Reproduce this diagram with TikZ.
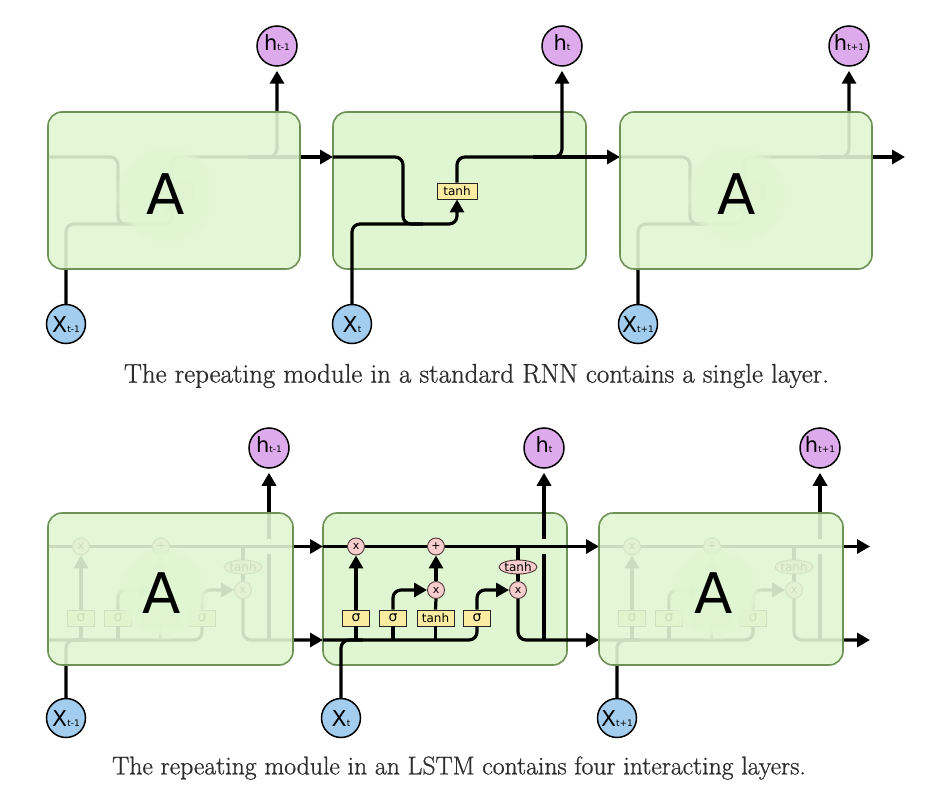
\documentclass[tikz,border=0pt]{standalone}
\usepackage{fontspec}
\newfontfamily\dvs{DejaVu Sans}
\newfontfamily\capfont{Latin Modern Roman}[FakeBold=0.9]
\usetikzlibrary{arrows.meta,shapes.geometric,fadings}
\definecolor{modfill}{RGB}{224,245,210}
\definecolor{modline}{RGB}{110,145,85}
\definecolor{hcol}{RGB}{221,170,236}
\definecolor{xcol}{RGB}{162,205,238}
\definecolor{gatecol}{RGB}{250,236,160}
\definecolor{pinkcol}{RGB}{248,205,205}
\definecolor{opline}{RGB}{80,55,55}
\definecolor{captcol}{RGB}{45,45,45}
\tikzset{
  module/.style={draw=modline, line width=1.6pt, fill=modfill, rounded corners=14pt},
  sidemodule/.style={module, fill opacity=0.9},
  wire/.style={line width=3.2pt, rounded corners=8pt},
  arr/.style={wire, -{Triangle[length=13pt,width=14pt]}},
  hnode/.style={circle, draw=black, line width=1.5pt, fill=hcol, minimum size=40pt, inner sep=0pt, text depth=6.5pt},
  xnode/.style={circle, draw=black, line width=1.5pt, fill=xcol, minimum size=39pt, inner sep=0pt},
  rgate/.style={rectangle, draw=black!85, line width=0.9pt, fill=gatecol, minimum width=40pt, minimum height=16pt, inner sep=0pt, font=\dvs\fontsize{12}{12}\selectfont},
  sgate/.style={rectangle, draw=black!85, line width=0.9pt, fill=gatecol, minimum width=27pt, minimum height=16pt, inner sep=0pt, font=\dvs\fontsize{14}{14}\selectfont},
  tgate/.style={sgate, minimum width=37pt, font=\dvs\fontsize{12}{12}\selectfont},
  op/.style={circle, draw=opline, line width=0.9pt, fill=pinkcol, minimum size=17pt, inner sep=0pt, font=\dvs\fontsize{11}{11}\selectfont},
  tanhc/.style={ellipse, draw=opline, line width=0.9pt, fill=pinkcol, minimum width=38pt, minimum height=14pt, inner sep=0pt},
  optext/.style={inner sep=0pt, font=\dvs\fontsize{12}{12}\selectfont},
  bigA/.style={font=\dvs\fontsize{56}{56}\selectfont},
  glow/.style={fill=modfill, fill opacity=0.92, path fading=circle with fuzzy edge 20 percent},
  caption/.style={text=captcol, font=\capfont\fontsize{26.2}{30}\selectfont},
}
\newcommand\hlab[2]{{\dvs\fontsize{#1}{#1}\selectfont h}{\dvs\fontsize{9}{9}\selectfont #2}}
\newcommand\xlab[2]{{\dvs\fontsize{#1}{#1}\selectfont X}{\dvs\fontsize{9}{9}\selectfont #2}}
% RNN module wires: prefix, left x, next edge x
\newcommand\rnnwires[3]{%
  \node[rgate] (#1tanh) at (#2+124,191) {tanh};
  \coordinate (#1in) at (#2,157);
  \coordinate (#1next) at (#3,157);
  \draw[arr] (#1in) -- (#2+70,157) -- (#2+70,224) -- (#2+124,224) -- (#1tanh.south);
  \draw[wire] (#1x.north) |- (#2+90,224);
  \draw[arr,shorten >=4pt] (#1tanh.north) -- (#2+124,157) -- (#2+229,157) -- (#1h.south);
  \draw[arr] (#2+200,157) -- (#1next);
}
% LSTM module wires: prefix, left x, next edge x
\newcommand\lstmwires[3]{%
  \node[sgate] (#1sf) at (#2+33,618) {σ};
  \node[sgate] (#1si) at (#2+70,618) {σ};
  \node[tgate] (#1tg) at (#2+112.5,618) {tanh};
  \node[sgate] (#1so) at (#2+154,618) {σ};
  \node[op] (#1f) at (#2+33,546.5) {x};
  \node[op] (#1p) at (#2+113,546.5) {+};
  \node[op] (#1i) at (#2+113,590) {x};
  \node[op] (#1o) at (#2+195,590) {x};
  \node[tanhc] (#1tc) at (#2+195,567) {};
  \node[optext] (#1tct) at (#1tc) {tanh};
  \coordinate (#1cin) at (#2,546.5);
  \coordinate (#1hin) at (#2,640);
  \coordinate (#1cnext) at (#3,546.5);
  \coordinate (#1hnext) at (#3,640);
  \draw[wire] (#1cin) -- (#1f);
  \draw[wire] (#1f) -- (#1p);
  \draw[arr] (#1p) -- (#1cnext);
  \draw[wire] (#2+195,546.5) -- (#1tc.north);
  \draw[wire] (#1tc.south) -- (#1o.north);
  \draw[wire] (#1hin) -- (#2+154,640) -- (#1so.south);
  \draw[wire] (#1x.north) |- (#2+40,640);
  \draw[wire] (#1sf.south) -- (#2+33,640);
  \draw[wire] (#1si.south) -- (#2+70,640);
  \draw[wire] (#1tg.south) -- (#2+112.5,640);
  \draw[arr] (#1sf.north) -- (#1f.south);
  \draw[arr] (#1si.north) -- (#2+70,590) -- (#1i.west);
  \draw[wire] (#1tg.north) -- (#1i.south);
  \draw[arr] (#1i.north) -- (#1p.south);
  \draw[arr] (#1so.north) -- (#2+154,590) -- (#1o.west);
  \draw[arr] (#1o.south) -- (#2+195,640) -- (#1hnext);
  \draw[wire] (#2+221,640) -- (#2+221,554);
  \draw[arr,shorten >=4pt] (#2+221,539) -- (#1h.south);
}
\begin{document}
\begin{tikzpicture}[x=1pt,y=-1pt]
\useasboundingbox (0,0) rectangle (934,802);
% ---------------- RNN row ----------------
\node[hnode] (ah) at (48+229,46) {\hlab{21}{t-1}};
\node[hnode] (bh) at (333+229,46) {\hlab{21}{t}};
\node[hnode] (ch) at (620+229,46) {\hlab{21}{t+1}};
\node[xnode] (ax) at (48+18,324) {\xlab{22}{t-1}};
\node[xnode] (bx) at (333+19,324) {\xlab{22}{t}};
\node[xnode] (cx) at (620+18,324) {\xlab{22}{t+1}};
\draw[module] (333,112) rectangle (586,269);
\rnnwires{a}{48}{333}
\rnnwires{b}{333}{620}
\rnnwires{c}{620}{905}
\draw[sidemodule] (48,112) rectangle (300,269);
\draw[sidemodule] (620,112) rectangle (872,269);
\fill[glow] (166,194) circle[radius=52pt];
\fill[glow] (737,194) circle[radius=52pt];
\node[bigA] (aA) at (166,194) {A};
\node[bigA] (cA) at (737,194) {A};
\node[caption, font=\capfont\fontsize{26.9}{30}\selectfont] (cap1) at (476.5,376) {The repeating module in a standard RNN contains a single layer.};
% ---------------- LSTM row ----------------
\node[hnode] (dh) at (48+221,448) {\hlab{21}{t-1}};
\node[hnode] (eh) at (323+221,448) {\hlab{21}{t}};
\node[hnode] (fh) at (599+221,448) {\hlab{21}{t+1}};
\node[xnode] (dx) at (48+18,718) {\xlab{22}{t-1}};
\node[xnode] (ex) at (323+18,718) {\xlab{22}{t}};
\node[xnode] (fx) at (599+18,718) {\xlab{22}{t+1}};
\draw[module] (323,513) rectangle (567,665);
\lstmwires{d}{48}{323}
\lstmwires{e}{323}{599}
\lstmwires{f}{599}{870}
\draw[sidemodule] (48,513) rectangle (293,665);
\draw[sidemodule] (599,513) rectangle (843,665);
\fill[glow] (162,593) circle[radius=48pt];
\fill[glow] (714,593) circle[radius=48pt];
\node[bigA] (dA) at (162,593) {A};
\node[bigA] (fA) at (714,593) {A};
\node[caption, font=\capfont\fontsize{25.7}{30}\selectfont] (cap2) at (459,768) {The repeating module in an LSTM contains four interacting layers.};
\end{tikzpicture}
\end{document}
